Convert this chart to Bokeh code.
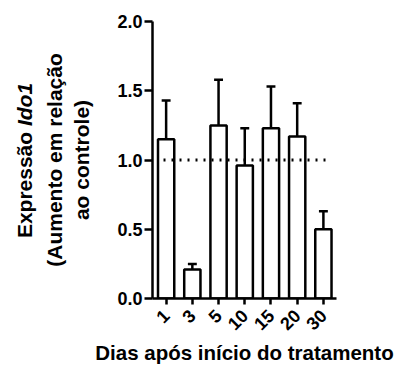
import math
from bokeh.plotting import figure
from bokeh.layouts import row
from bokeh.models import Range1d, FixedTicker, NumeralTickFormatter
from bokeh.core.properties import value
from bokeh.embed import file_html
from bokeh.resources import INLINE

# ---- data ----
days = ["1", "3", "5", "10", "15", "20", "30"]
expression = [1.15, 0.21, 1.25, 0.96, 1.23, 1.17, 0.50]
error = [0.28, 0.04, 0.33, 0.27, 0.30, 0.24, 0.13]
y_ticks = [0.0, 0.5, 1.0, 1.5, 2.0]
reference_level = 1.0

FONT = "Liberation Sans"
xs = list(range(len(days)))
tops = [v + e for v, e in zip(expression, error)]

TOTAL_W, TOTAL_H, LEFT_W = 406, 367, 94
yr = Range1d(0, 2.0)

# ---- main chart ----
p = figure(width=TOTAL_W - LEFT_W, height=TOTAL_H, output_backend="svg", toolbar_location=None,
           x_range=Range1d(-0.52, 6.5), y_range=yr)
p.min_border_left = 152 - LEFT_W
p.min_border_right = 70
p.min_border_top = 21
p.min_border_bottom = 69
p.outline_line_color = None
p.xgrid.visible = False
p.ygrid.visible = False
p.background_fill_color = None
p.border_fill_color = None

# error bars (upper only)
p.segment(x0=xs, y0=expression, x1=xs, y1=tops, line_color="black", line_width=2.5)
p.segment(x0=[x - 0.17 for x in xs], y0=tops, x1=[x + 0.17 for x in xs], y1=tops,
          line_color="black", line_width=2.5)

# bars
p.vbar(x=xs, top=expression, bottom=0, width=0.62, fill_color="white",
       line_color="black", line_width=2.5)

# dotted reference line
p.segment(x0=[-0.1], y0=[reference_level], x1=[6.15], y1=[reference_level],
          line_color="black", line_width=3, line_dash="2 6")

ya = p.yaxis[0]
ya.ticker = FixedTicker(ticks=y_ticks)
ya.formatter = NumeralTickFormatter(format="0.0")
ya.axis_line_width = 2.5
ya.major_tick_line_width = 2.5
ya.major_tick_out = 8
ya.major_tick_in = 0
ya.minor_tick_line_color = None
ya.major_label_standoff = 2
ya.major_label_text_font = FONT
ya.major_label_text_font_style = "bold"
ya.major_label_text_font_size = "18px"
ya.major_label_text_color = "black"

xa = p.xaxis[0]
xa.ticker = FixedTicker(ticks=xs)
xa.major_label_overrides = {i: d for i, d in zip(xs, days)}
xa.major_label_orientation = math.pi / 4
xa.axis_line_width = 2.5
xa.major_tick_line_width = 2.5
xa.major_tick_out = 6
xa.major_tick_in = 0
xa.minor_tick_line_color = None
xa.major_label_standoff = 8
xa.major_label_text_font = FONT
xa.major_label_text_font_style = "bold"
xa.major_label_text_font_size = "18px"
xa.major_label_text_color = "black"
xa.axis_label = "Dias após início do tratamento"
xa.axis_label_standoff = 2
xa.axis_label_text_font = FONT
xa.axis_label_text_font_style = "bold"
xa.axis_label_text_font_size = "20.5px"
xa.axis_label_text_color = "black"

# ---- y-axis title panel (frame is aligned with the chart frame; shares its y range) ----
t = figure(width=LEFT_W, height=TOTAL_H, output_backend="svg", toolbar_location=None,
           x_range=Range1d(0, LEFT_W), y_range=yr,
           x_axis_location=None, y_axis_location=None)
t.grid.visible = False
t.outline_line_color = None
t.min_border = 0
t.background_fill_color = None
t.border_fill_color = None

common = dict(angle=math.pi / 2, text_baseline="middle", text_font=value(FONT),
              text_font_size="21px", text_color="black")
t.text(x=[24], y=[0.436], text=["Expressão "], text_align="left",
       text_font_style="bold", **common)
t.text(x=[24], y=[1.245], text=["Ido1"], text_align="left",
       text_font_style="bold italic", **common)
t.text(x=[54], y=[1.0], text=["(Aumento em relação"], text_align="center",
       text_font_style="bold", **common)
t.text(x=[81], y=[1.0], text=["ao controle)"], text_align="center",
       text_font_style="bold", **common)

layout = row(t, p, spacing=0)
open("out.html", "w").write(file_html(layout, INLINE))
